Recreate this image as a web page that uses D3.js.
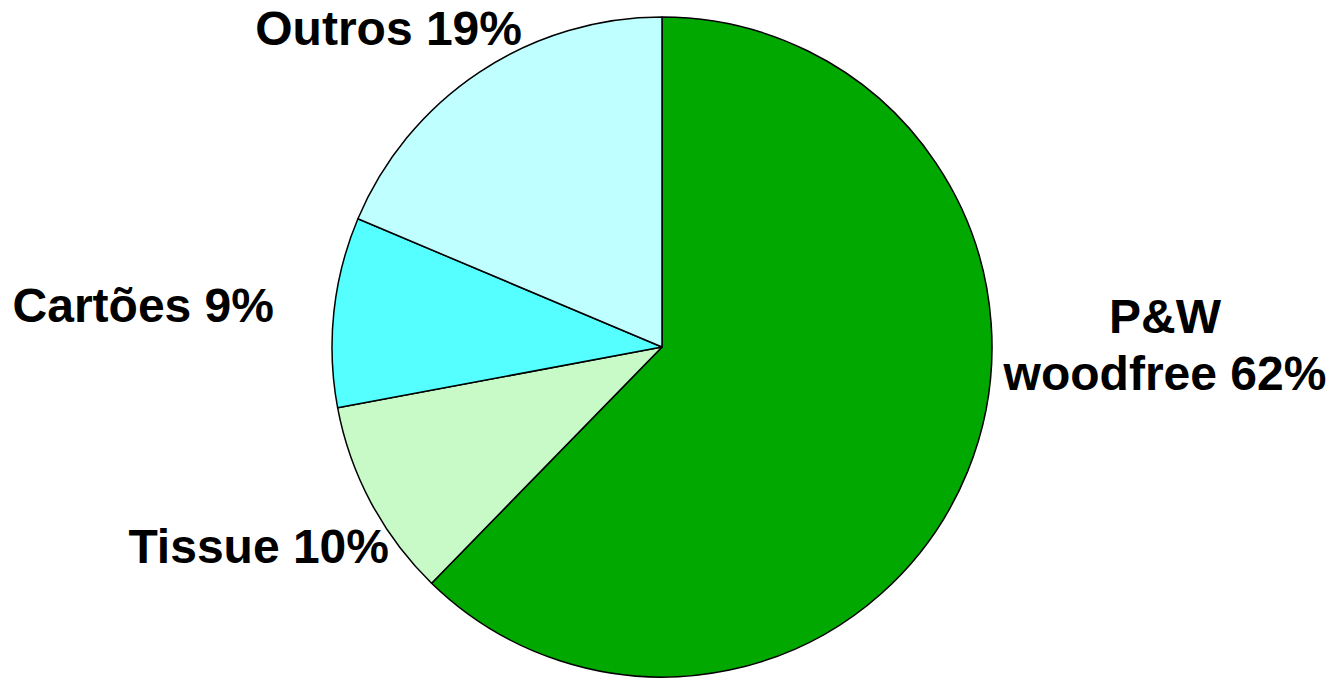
<!DOCTYPE html>
<html>
<head>
<meta charset="utf-8">
<script src="https://cdn.jsdelivr.net/npm/d3@7"></script>
<style>
  html, body { margin: 0; padding: 0; background: #ffffff; }
  svg { display: block; }
  text { font-family: "Liberation Sans", Arial, sans-serif; font-weight: bold; fill: #000; }
</style>
</head>
<body>
<svg id="chart" width="1334" height="679"></svg>
<script>
const categories = ["P&W woodfree", "Tissue", "Cartões", "Outros"];
const values = [62.3, 9.75, 9.3, 18.65];
const colors = ["#00A800", "#C8FAC8", "#55FFFF", "#C0FFFF"];
const labelLines = [["P&W", "woodfree 62%"], ["Tissue 10%"], ["Cartões 9%"], ["Outros 19%"]];

const width = 1334, height = 679;
const cx = 662, cy = 347, r = 330;

const svg = d3.select("#chart");
const g = svg.append("g").attr("transform", `translate(${cx},${cy})`);

const data = categories.map((c, i) => ({ name: c, value: values[i], color: colors[i], lines: labelLines[i] }));

const pie = d3.pie().value(d => d.value).sort(null).startAngle(0).endAngle(2 * Math.PI);
const arc = d3.arc().innerRadius(0).outerRadius(r);
const arcs = pie(data);

g.selectAll("path.slice")
  .data(arcs)
  .enter().append("path")
  .attr("class", "slice")
  .attr("d", arc)
  .attr("fill", d => d.data.color)
  .attr("stroke", "#000")
  .attr("stroke-width", 1.5)
  .attr("stroke-linejoin", "round");

const fontSize = 48;
const labelPos = [
  { x: 1165, y: 333, anchor: "middle" },
  { x: 389, y: 563, anchor: "end" },
  { x: 274, y: 322, anchor: "end" },
  { x: 522, y: 45, anchor: "end" }
];

arcs.forEach((a, i) => {
  const p = labelPos[i];
  const t = svg.append("text")
    .attr("x", p.x)
    .attr("y", p.y)
    .attr("text-anchor", p.anchor)
    .style("font-size", fontSize + "px");
  a.data.lines.forEach((ln, j) => {
    t.append("tspan")
      .attr("x", p.x)
      .attr("dy", j === 0 ? 0 : 57)
      .text(ln);
  });
});
</script>
</body>
</html>
